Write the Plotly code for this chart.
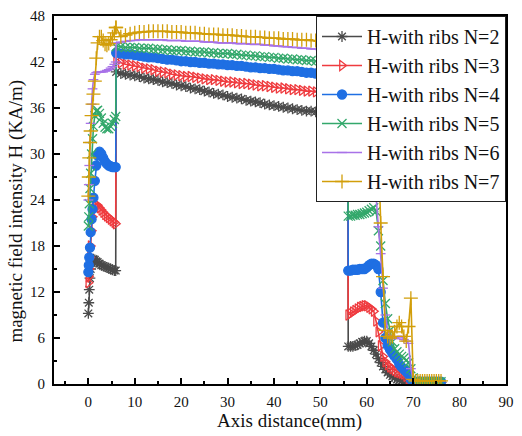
import plotly.graph_objects as go

# ---------------- data ----------------
XL = [0, 0.1, 0.2, 0.35, 0.5, 0.7, 0.9, 1.1, 1.4, 1.7, 2.0, 2.4, 2.8, 3.2, 3.6, 4.0, 4.4, 4.8, 5.2, 5.6, 5.9]
XM = [6.0, 7, 8, 9, 10, 11, 12, 13, 14, 15, 16, 17, 18, 19, 20, 21, 22, 23, 24, 25, 26, 27, 28, 29, 30,
      31, 32, 33, 34, 35, 36, 37, 38, 39, 40, 41, 42, 43, 44, 45, 46, 47, 48, 49, 50, 51, 52, 53, 54, 55, 55.9]
XR = [56.0, 56.5, 57, 57.5, 58, 58.5, 59, 59.5, 60, 60.5, 61, 61.5, 62, 62.5, 63, 63.5, 64, 64.5, 65, 65.5,
      66, 66.5, 67, 67.5, 68, 68.5, 69, 69.5, 70, 70.5, 71, 71.5, 72, 72.5, 73, 73.5, 74, 74.5, 75, 75.5, 76]

n2_left = [9.2, 10.6, 12.3, 13.8, 15.0, 15.8, 16.2, 16.3, 16.2, 16.0, 15.9, 15.7, 15.5, 15.4, 15.3, 15.2, 15.1, 15.0, 14.9, 14.8, 14.8]
n2_mid = [40.7, 40.5, 40.4, 40.3, 40.2, 40.1, 39.9, 39.8, 39.7, 39.6, 39.4, 39.3, 39.2, 39.0, 38.9, 38.8, 38.6, 38.5, 38.4, 38.2,
          38.1, 37.9, 37.8, 37.7, 37.5, 37.4, 37.3, 37.2, 37.0, 36.9, 36.8, 36.7, 36.5, 36.4, 36.3, 36.2, 36.1, 36.0, 35.9, 35.8,
          35.7, 35.6, 35.6, 35.5, 35.5, 35.4, 35.4, 35.4, 35.3, 35.3, 35.3]
n2_right = [4.9, 4.9, 4.9, 5.0, 5.1, 5.3, 5.5, 5.6, 5.6, 5.3, 4.9, 4.4, 3.9, 3.3, 2.8, 2.3, 1.9, 1.5, 1.2, 1.0,
            0.8, 0.6, 0.5, 0.4, 0.3, 0.3, 0.2, 0.2, 0.2, 0.2, 0.2, 0.2, 0.2, 0.2, 0.2, 0.2, 0.2, 0.2, 0.2, 0.2, 0.2]

n3_left = [13.2, 14.0, 15.0, 16.5, 18.0, 20.0, 21.8, 22.8, 23.3, 23.4, 23.3, 23.0, 22.7, 22.4, 22.1, 21.9, 21.7, 21.5, 21.3, 21.1, 20.9]
n3_mid = [42.0, 41.9, 41.7, 41.6, 41.5, 41.4, 41.2, 41.1, 41.0, 40.8, 40.7, 40.6, 40.4, 40.3, 40.2, 40.1, 40.1, 40.0, 39.9, 39.8,
          39.7, 39.7, 39.6, 39.5, 39.4, 39.4, 39.3, 39.2, 39.2, 39.1, 39.0, 38.9, 38.9, 38.8, 38.7, 38.6, 38.6, 38.5, 38.4, 38.4,
          38.3, 38.2, 38.2, 38.1, 38.0, 38.0, 37.9, 37.8, 37.8, 37.7, 37.6]
n3_right = [9.0, 9.2, 9.4, 9.6, 9.8, 10.0, 10.1, 10.2, 10.2, 10.0, 9.8, 9.5, 8.2, 6.8, 5.0, 3.6, 2.9, 2.5, 2.2, 2.0,
            1.8, 1.6, 1.5, 1.4, 1.3, 1.0, 0.6, 0.3, 0.2, 0.2, 0.2, 0.2, 0.2, 0.2, 0.2, 0.2, 0.2, 0.2, 0.2, 0.2, 0.2]

n4_left = [14.6, 15.5, 16.5, 17.8, 19.8, 21.5, 22.8, 24.3, 26.5, 28.5, 29.8, 30.3, 30.0, 29.5, 29.0, 28.7, 28.5, 28.4, 28.3, 28.3, 28.3]
n4_mid = [43.2, 43.1, 43.0, 43.0, 42.9, 42.8, 42.7, 42.6, 42.6, 42.5, 42.4, 42.3, 42.3, 42.2, 42.1, 42.1, 42.0, 42.0, 41.9, 41.9,
          41.8, 41.8, 41.7, 41.7, 41.6, 41.6, 41.5, 41.5, 41.4, 41.3, 41.3, 41.2, 41.2, 41.1, 41.1, 41.0, 40.9, 40.9, 40.8, 40.8,
          40.7, 40.6, 40.6, 40.5, 40.5, 40.4, 40.4, 40.3, 40.2, 40.2, 40.1]
n4_right = [14.8, 14.8, 14.9, 14.9, 14.9, 15.0, 15.0, 15.0, 15.2, 15.5, 15.7, 15.7, 15.5, 15.0, 12.0, 8.0, 6.0, 5.0, 4.5, 4.0,
            3.6, 3.2, 2.6, 2.2, 1.9, 1.6, 1.3, 0.6, 0.3, 0.3, 0.3, 0.3, 0.3, 0.3, 0.3, 0.3, 0.3, 0.3, 0.3, 0.3, 0.3]

n5_left = [20.6, 21.8, 23.5, 25.5, 27.5, 30.0, 32.0, 33.6, 35.0, 35.6, 35.7, 35.3, 34.7, 34.0, 33.5, 33.3, 33.3, 33.6, 34.0, 34.5, 34.9]
n5_mid = [44.0, 44.0, 43.9, 43.9, 43.9, 43.8, 43.8, 43.8, 43.7, 43.7, 43.6, 43.6, 43.5, 43.5, 43.5, 43.4, 43.4, 43.3, 43.3, 43.3,
          43.2, 43.2, 43.1, 43.1, 43.1, 43.0, 43.0, 42.9, 42.9, 42.8, 42.8, 42.7, 42.7, 42.6, 42.6, 42.5, 42.5, 42.4, 42.4, 42.3,
          42.3, 42.2, 42.2, 42.1, 42.1, 42.0, 42.0, 41.9, 41.9, 41.8, 41.8]
n5_right = [21.9, 21.9, 22.0, 22.0, 22.1, 22.1, 22.2, 22.3, 22.4, 22.6, 22.8, 23.0, 22.5, 20.0, 18.0, 13.5, 10.5, 8.5, 7.0, 5.5,
            4.6, 4.2, 3.9, 3.6, 3.4, 3.1, 2.8, 2.0, 0.8, 0.4, 0.3, 0.3, 0.3, 0.3, 0.3, 0.3, 0.3, 0.3, 0.3, 0.3, 0.3]

n6_left = [24.0, 26.0, 28.5, 31.5, 34.0, 36.5, 38.5, 39.7, 40.4, 40.6, 40.7, 40.7, 40.7, 40.7, 40.8, 40.9, 41.0, 41.2, 41.4, 41.7, 42.0]
n6_mid = [44.5, 44.6, 44.7, 44.8, 44.8, 44.9, 44.9, 44.9, 44.9, 44.9, 44.9, 44.8, 44.8, 44.8, 44.8, 44.7, 44.7, 44.7, 44.7, 44.6,
          44.6, 44.6, 44.5, 44.5, 44.5, 44.5, 44.4, 44.4, 44.4, 44.3, 44.3, 44.3, 44.2, 44.2, 44.1, 44.1, 44.0, 44.0, 43.9, 43.9,
          43.8, 43.8, 43.7, 43.7, 43.6, 43.6, 43.5, 43.5, 43.4, 43.4, 43.3]
n6_right = [29.0, 29.1, 29.2, 29.2, 29.2, 29.2, 29.1, 29.0, 28.8, 28.5, 28.2, 27.5, 24.5, 20.5, 17.0, 12.5, 9.0, 7.0, 6.3, 6.0,
            5.9, 6.0, 6.2, 6.2, 5.8, 5.6, 5.3, 2.0, 0.5, 0.4, 0.4, 0.4, 0.4, 0.4, 0.4, 0.4, 0.4, 0.4, 0.4, 0.4, 0.4]

n7_left = [24.5, 27.0, 29.5, 31.5, 33.0, 35.0, 36.5, 37.8, 39.5, 42.5, 44.5, 45.3, 45.3, 44.8, 44.3, 44.2, 44.4, 44.9, 45.3, 45.8, 46.5]
n7_mid = [46.5, 45.3, 45.5, 45.7, 45.8, 45.9, 45.9, 46.0, 46.0, 46.0, 46.0, 46.0, 45.9, 45.9, 45.9, 45.8, 45.8, 45.8, 45.7, 45.7,
          45.6, 45.6, 45.6, 45.5, 45.5, 45.5, 45.4, 45.4, 45.3, 45.3, 45.3, 45.2, 45.2, 45.1, 45.1, 45.1, 45.0, 45.0, 45.0, 44.9,
          44.9, 44.9, 44.8, 44.8, 44.7, 44.7, 44.7, 44.6, 44.6, 44.5, 44.5]
n7_right = [44.5, 44.4, 44.4, 44.3, 44.3, 44.2, 44.2, 44.1, 44.0, 43.8, 43.5, 42.5, 40.0, 30.0, 21.0, 14.0, 7.0, 6.2, 6.0, 6.2,
            6.8, 7.5, 8.0, 7.5, 6.2, 5.6, 7.5, 11.2, 0.6, 0.4, 0.4, 0.4, 0.4, 0.4, 0.4, 0.4, 0.4, 0.4, 0.4, 0.4, 0.4]

names = ["H-with ribs N=2", "H-with ribs N=3", "H-with ribs N=4",
         "H-with ribs N=5", "H-with ribs N=6", "H-with ribs N=7"]
series = [n2_left + n2_mid + n2_right, n3_left + n3_mid + n3_right, n4_left + n4_mid + n4_right,
          n5_left + n5_mid + n5_right, n6_left + n6_mid + n6_right, n7_left + n7_mid + n7_right]
X = XL + XM + XR

# ---------------- styles ----------------
colors = ["#4a4a4a", "#ef3b3f", "#1f6fe3", "#33a86b", "#a872e8", "#d29e0a"]
symbols = ["asterisk-open", "triangle-right-open", "circle", "x-thin-open", "line-ew-open", "cross-thin-open"]
sizes = [9, 9, 9, 9, 7, 10]

fig = go.Figure()
for name, y, c, s, sz in zip(names, series, colors, symbols, sizes):
    fig.add_trace(go.Scatter(
        x=X, y=y, name=name, mode="lines+markers",
        line=dict(color=c, width=1.6),
        marker=dict(symbol=s, size=sz, color=c, line=dict(color=c, width=1.3)),
    ))

FF = "Times New Roman"
W, H = 522, 436
L, R, T, B = 54, 8, 14, 52

fig.update_layout(
    width=W, height=H,
    margin=dict(l=L, r=R, t=T, b=B),
    paper_bgcolor="white", plot_bgcolor="white",
    font=dict(family=FF, color="#111", size=15),
    showlegend=True,
    legend=dict(
        x=1.0, y=1.0, xanchor="right", yanchor="top",
        bgcolor="white", bordercolor="#222", borderwidth=1,
        font=dict(family=FF, size=20, color="#111"),
        tracegroupgap=0, itemwidth=40,
    ),
    xaxis=dict(
        range=[-7.4, 90], showgrid=False, zeroline=False,
        showline=True, linecolor="black", linewidth=2, mirror=True,
        ticks="inside", ticklen=6, tickwidth=1.5, tickcolor="black",
        tick0=0, dtick=10, ticklabelstandoff=3,
        tickfont=dict(family=FF, size=15, color="#111"),
        minor=dict(ticks="inside", ticklen=3, tickwidth=1.5, tickcolor="black", dtick=5),
    ),
    yaxis=dict(
        range=[0, 48], showgrid=False, zeroline=False,
        showline=True, linecolor="black", linewidth=2, mirror=True,
        ticks="inside", ticklen=6, tickwidth=1.5, tickcolor="black",
        tick0=0, dtick=6, ticklabelstandoff=4,
        tickfont=dict(family=FF, size=15, color="#111"),
        minor=dict(ticks="inside", ticklen=3, tickwidth=1.5, tickcolor="black", dtick=3),
    ),
    annotations=[
        dict(text="Axis distance(mm)", xref="paper", yref="paper",
             x=(294 - L) / (W - L - R), y=-(421 - (H - B)) / (H - T - B),
             xanchor="center", yanchor="middle", showarrow=False,
             font=dict(family=FF, size=19, color="#111")),
        dict(text="magnetic field intensity H (KA/m)", xref="paper", yref="paper",
             x=-(L - 15) / (W - L - R), y=((H - B) - 210) / (H - T - B),
             xanchor="center", yanchor="middle", textangle=-90, showarrow=False,
             font=dict(family=FF, size=19, color="#111")),
    ],
)

fig.write_html("out.html")
